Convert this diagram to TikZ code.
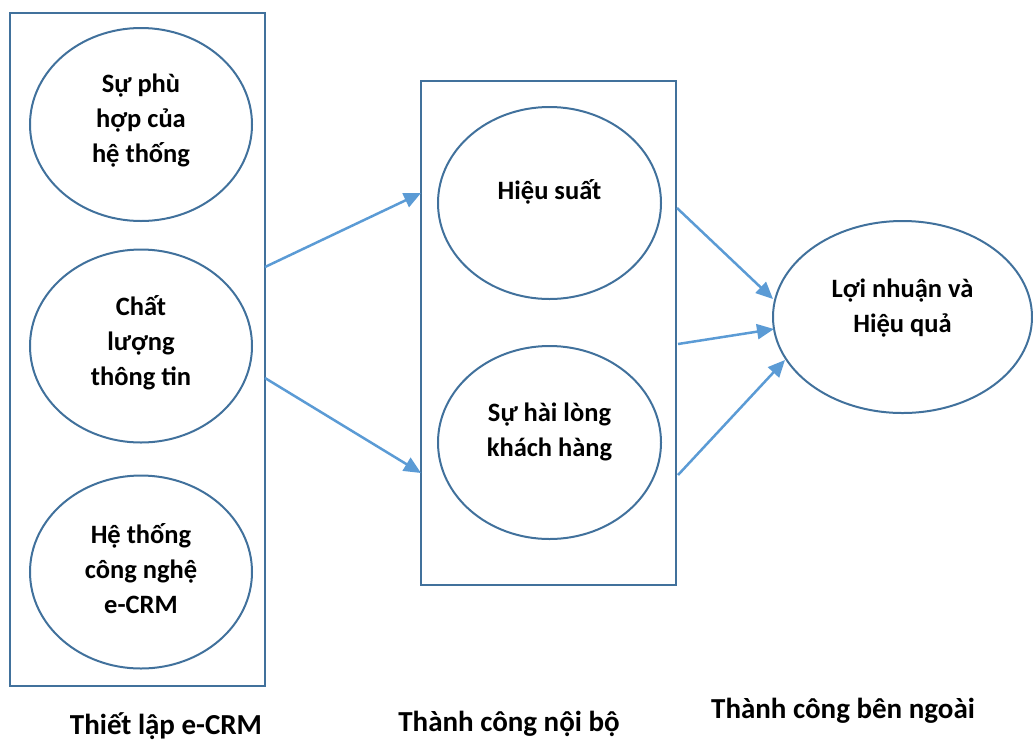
\documentclass[tikz,border=0pt]{standalone}
\usepackage{fontspec}
\setmainfont{Carlito}
\usetikzlibrary{shapes.geometric,arrows.meta}
\definecolor{edgeblue}{HTML}{41719C}
\definecolor{arrowblue}{HTML}{5B9BD5}
\begin{document}
\begin{tikzpicture}[x=1pt,y=-1pt,
  groupbox/.style={draw=edgeblue,line width=2.4pt,rectangle,inner sep=0pt},
  ell/.style={draw=edgeblue,line width=2pt,ellipse,inner sep=0pt,minimum width=222pt,minimum height=193pt},
  etext/.style={align=center,font=\fontsize{26.5}{35}\selectfont\bfseries,inner sep=0pt},
  btext/.style={font=\fontsize{29}{34}\selectfont\bfseries,inner sep=0pt},
  conn/.style={draw=arrowblue,line width=2.5pt,-{Triangle[length=17pt,width=15pt]}}]
\useasboundingbox (0,0) rectangle (1033,740);
% group boxes
\node[groupbox,minimum width=255pt,minimum height=673pt] (lb) at (137.5,349.5) {};
\node[groupbox,minimum width=255pt,minimum height=504pt] (mb) at (548.5,333) {};
% left ellipses
\node[ell] (e1) at (141,124.5) {};
\node[etext] (e1t) at (141,121) {Sự phù\\hợp của\\hệ thống};
\node[ell] (e2) at (141,346) {};
\node[etext] (e2t) at (141,343) {Chất\\lượng\\thông tin};
\node[ell] (e3) at (141,572) {};
\node[etext] (e3t) at (141,569) {Hệ thống\\công nghệ\\e-CRM};
% middle ellipses
\node[ell,minimum width=223pt,minimum height=192pt] (m1) at (549.5,203) {};
\node[etext] (m1t) at (549.5,192) {Hiệu suất};
\node[ell,minimum width=223pt,minimum height=193pt] (m2) at (549.5,442.5) {};
\node[etext] (m2t) at (549.5,432) {Sự hài lòng\\khách hàng};
% right ellipse
\node[ell,minimum width=259pt,minimum height=192pt] (r) at (902.5,317) {};
\node[etext] (rt) at (902.5,308) {Lợi nhuận và\\Hiệu quả};
% bottom labels
\node[btext] (l1) at (166,726) {Thiết lập e-CRM};
\node[btext] (l2) at (509,724) {Thành công nội bộ};
\node[btext] (l3) at (843,711) {Thành công bên ngoài};
% arrow end points
\coordinate (s1) at (265,267);
\coordinate (t1) at (421,193);
\coordinate (s2) at (265,378);
\coordinate (t2) at (421,473);
\coordinate (s3) at (677,208);
\coordinate (t3) at (773,299);
\coordinate (s4) at (678,344);
\coordinate (t4) at (774,329);
\coordinate (s5) at (678,475);
\coordinate (t5) at (785,360);
\draw[conn] (s1) -- (t1);
\draw[conn] (s2) -- (t2);
\draw[conn] (s3) -- (t3);
\draw[conn] (s4) -- (t4);
\draw[conn] (s5) -- (t5);
\end{tikzpicture}
\end{document}
